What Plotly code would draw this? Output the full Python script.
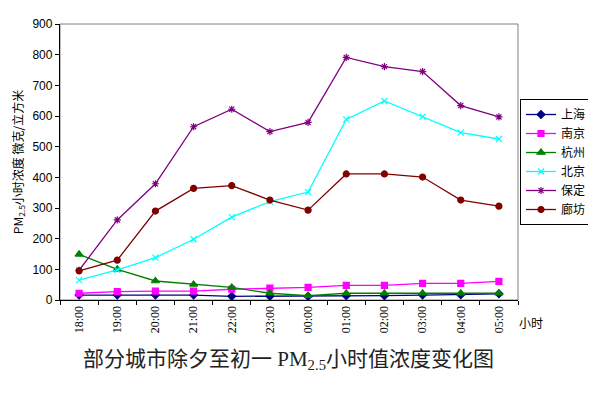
import plotly.graph_objects as go

hours = ["18:00", "19:00", "20:00", "21:00", "22:00", "23:00",
         "00:00", "01:00", "02:00", "03:00", "04:00", "05:00"]
shanghai = [16, 16, 16, 16, 12, 12, 12, 14, 14, 16, 17, 20]
nanjing = [22, 27, 29, 29, 35, 39, 41, 48, 48, 54, 54, 61]
hangzhou = [149, 100, 62, 51, 41, 22, 14, 22, 22, 22, 22, 22]
beijing = [65, 98, 138, 198, 270, 321, 352, 589, 649, 598, 546, 525]
baoding = [97, 261, 379, 565, 622, 549, 579, 791, 761, 745, 634, 597]
langfang = [95, 130, 290, 364, 373, 326, 293, 411, 411, 401, 326, 306]

series = [
    ("上海", shanghai, "#000080", "diamond", 6),
    ("南京", nanjing, "#FF00FF", "square", 6),
    ("杭州", hangzhou, "#008000", "triangle-up", 7),
    ("北京", beijing, "#00FFFF", "x-thin-open", 6),
    ("保定", baoding, "#800080", "asterisk-open", 6),
    ("廊坊", langfang, "#800000", "circle", 6),
]

fig = go.Figure()
for name, vals, color, sym, size in series:
    fig.add_trace(go.Scatter(
        x=hours, y=vals, name=name, mode="lines+markers",
        line=dict(color=color, width=1.3),
        marker=dict(symbol=sym, size=size, color=color,
                    line=dict(color=color, width=1.2)),
    ))

serif = "Liberation Serif, Noto Sans CJK SC, serif"
cjk = "Noto Sans CJK SC, sans-serif"

# page has an 8px body margin: figure occupies page x 8..596, y 8..397
OFF = 8
W, H = 588, 389
fig.update_layout(
    width=W, height=H,
    margin=dict(l=60 - OFF, r=W + OFF - 518, t=24 - OFF, b=H + OFF - 300, autoexpand=False),
    paper_bgcolor="white", plot_bgcolor="white",
    showlegend=True,
    legend=dict(xref="container", yref="container",
                x=(520 - OFF) / W, y=1 - (162 - OFF) / H, xanchor="left", yanchor="middle",
                bordercolor="black", borderwidth=1, bgcolor="white",
                font=dict(family=cjk, size=12, color="#000"),
                itemwidth=30, tracegroupgap=0),
    xaxis=dict(type="category", showgrid=False, showline=True,
               linecolor="black", linewidth=1.3,
               ticks="outside", ticklen=4, tickcolor="black",
               tickson="boundaries", tickangle=-90, automargin=False,
               tickfont=dict(family=serif, size=12, color="#000"),
               range=[-0.5, 11.5], fixedrange=True),
    yaxis=dict(range=[0, 900], dtick=100, showgrid=False, showline=True,
               linecolor="black", linewidth=1.3, automargin=False,
               ticks="outside", ticklen=4, tickcolor="black",
               tickfont=dict(family="Liberation Sans, Arial, sans-serif", size=12, color="#000"),
               title=dict(text="PM<sub>2.5</sub>小时浓度 微克/立方米",
                          font=dict(family=cjk, size=12, color="#000"),
                          standoff=6),
               zeroline=False),
    shapes=[dict(type="rect", xref="paper", yref="paper", x0=0, y0=0, x1=1, y1=1,
                 line=dict(color="#808080", width=1), layer="below")],
    annotations=[
        dict(text="小时", xref="paper", yref="paper", x=(545 - 60) / 458, y=(300 - 333) / 276,
             showarrow=False, font=dict(family=cjk, size=12, color="#000")),
        dict(text="部分城市除夕至初一 PM<sub>2.5</sub>小时值浓度变化图", xref="paper", yref="paper",
             x=(288 - 60) / 458, y=(300 - 375) / 276, showarrow=False,
             font=dict(family=serif, size=21, color="#222")),
    ],
)

fig.write_html("out.html")
